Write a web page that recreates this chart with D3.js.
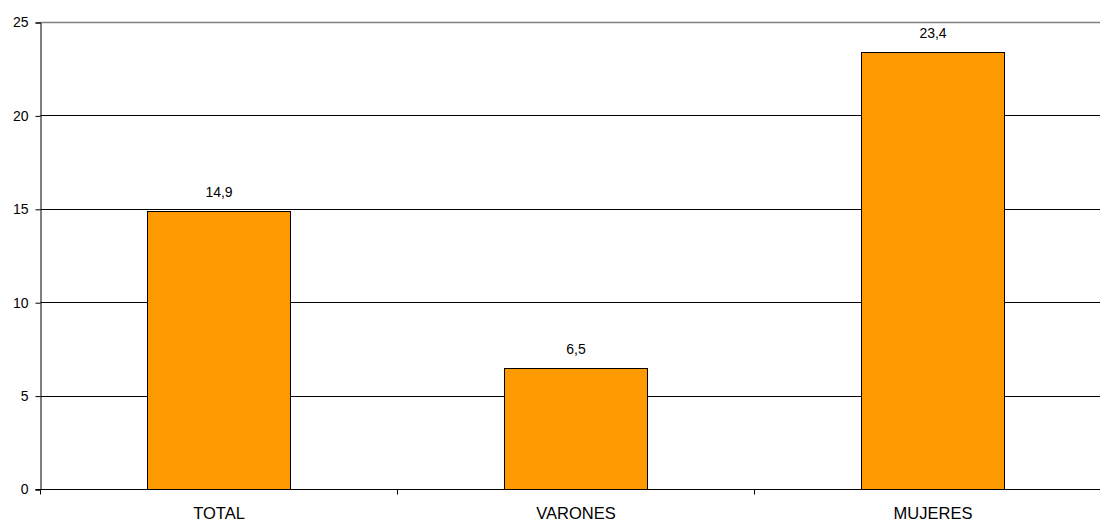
<!DOCTYPE html>
<html>
<head>
<meta charset="utf-8">
<script src="https://cdn.jsdelivr.net/npm/d3@7/dist/d3.min.js"></script>
<style>
  html, body { margin: 0; padding: 0; background: #fff; }
  svg { display: block; font-family: "Liberation Sans", Arial, sans-serif; }
</style>
</head>
<body>
<svg id="chart" width="1100" height="524"></svg>
<script>
const categories = ["TOTAL", "VARONES", "MUJERES"];
const values = [14.9, 6.5, 23.4];
const yTicks = [0, 5, 10, 15, 20, 25];

const svg = d3.select("#chart");
const plotLeft = 40.5, plotTop = 22.5, plotBottom = 489.5;
const bandW = 357;
const plotRight = plotLeft + bandW * categories.length;

const x = d3.scaleBand().domain(categories).range([plotLeft, plotRight]).paddingInner(0.6).paddingOuter(0.3);
const xTickScale = d3.scaleBand().domain(categories).range([plotLeft, plotRight]);
const y = d3.scaleLinear().domain([0, 25]).range([plotBottom, plotTop]);

// horizontal gridlines
svg.append("g").selectAll("line")
  .data(yTicks.filter(t => t > 0))
  .join("line")
  .attr("x1", plotLeft).attr("x2", plotRight)
  .attr("y1", d => Math.floor(y(d)) + 0.5).attr("y2", d => Math.floor(y(d)) + 0.5)
  .attr("stroke", d => d === 25 ? "#808080" : "#000")
  .attr("stroke-width", d => d === 25 ? 1.5 : 1);

// bars
svg.append("g").selectAll("rect")
  .data(values)
  .join("rect")
  .attr("x", (d, i) => Math.floor(x(categories[i])) + 0.5)
  .attr("width", Math.round(x.bandwidth()))
  .attr("y", d => Math.floor(y(d)) + 0.5)
  .attr("height", d => plotBottom - (Math.floor(y(d)) + 0.5))
  .attr("fill", "#FF9900")
  .attr("stroke", "#000")
  .attr("stroke-width", 1);

// value labels
svg.append("g").selectAll("text")
  .data(values)
  .join("text")
  .attr("x", (d, i) => x(categories[i]) + x.bandwidth() / 2)
  .attr("y", d => y(d) - 14)
  .attr("text-anchor", "middle")
  .attr("font-size", 14)
  .attr("fill", "#000")
  .text(d => d3.format(".1f")(d).replace(".", ","));

// y axis
const yAxis = d3.axisLeft(y).tickValues(yTicks).tickSize(5).tickPadding(7);
const gy = svg.append("g").attr("transform", `translate(${plotLeft},0)`).call(yAxis);
gy.select(".domain").attr("stroke", "#000");
gy.selectAll(".tick line").attr("stroke", "#000");
gy.selectAll(".tick text").attr("font-size", 14).attr("font-family", "Liberation Sans, Arial, sans-serif").attr("fill", "#000");

// x axis line and category dividers
svg.append("line").attr("x1", plotLeft - 5).attr("x2", plotRight)
  .attr("y1", plotBottom).attr("y2", plotBottom).attr("stroke", "#000");
svg.append("g").selectAll("line")
  .data(categories)
  .join("line")
  .attr("x1", d => Math.floor(xTickScale(d) + xTickScale.bandwidth()) + 0.5)
  .attr("x2", d => Math.floor(xTickScale(d) + xTickScale.bandwidth()) + 0.5)
  .attr("y1", plotBottom).attr("y2", plotBottom + 5)
  .attr("stroke", "#000");
svg.append("line").attr("x1", plotLeft).attr("x2", plotLeft)
  .attr("y1", plotBottom).attr("y2", plotBottom + 5).attr("stroke", "#000");

// category labels
svg.append("g").selectAll("text")
  .data(categories)
  .join("text")
  .attr("x", d => xTickScale(d) + xTickScale.bandwidth() / 2)
  .attr("y", 519)
  .attr("text-anchor", "middle")
  .attr("font-size", 16.5)
  .attr("fill", "#000")
  .text(d => d);
</script>
</body>
</html>
